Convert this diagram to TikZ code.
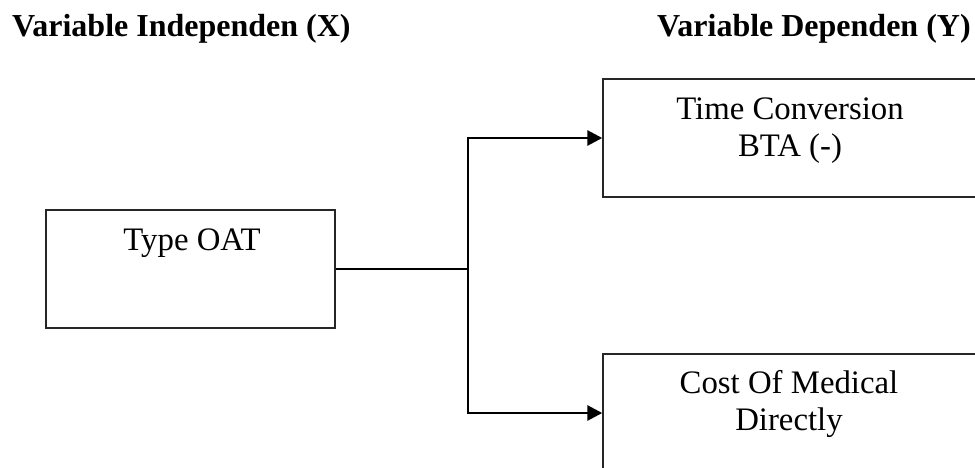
\documentclass[tikz,border=0pt]{standalone}
\usepackage{fontspec}
\setmainfont{Liberation Serif}
\usetikzlibrary{arrows.meta}
\begin{document}
\begin{tikzpicture}[x=1pt,y=-1pt,
  box/.style={draw=black!85,line width=1.4pt,minimum width=#1,minimum height=118pt,inner sep=0pt},
  lbl/.style={anchor=base,align=center,inner sep=0pt,font=\fontsize{32.8}{37}\selectfont},
  title/.style={anchor=base west,inner sep=0pt,font=\fontsize{32}{38}\selectfont\bfseries},
  conn/.style={line width=2.8pt,black},
  arr/.style={conn,-{Triangle[length=15pt,width=15pt]}}]
\useasboundingbox (0,0) rectangle (975,468);
\clip (0,0) rectangle (975,468);
\node[title] (tx) at (12,37) {Variable Independen (X)};
\node[title] (ty) at (657,37) {Variable Dependen (Y)};
\node[box=289pt] (oat) at (190.5,269) {};
\node[box=374pt] (bta) at (790,138) {};
\node[box=374pt] (cost) at (790,413) {};
\node[lbl] (toat) at (192,250) {Type OAT};
\node[lbl] (tbta) at (790,157) {Time Conversion\\BTA (-)};
\node[lbl] (tcost) at (789,430) {Cost Of Medical\\Directly};
\coordinate (j) at (468,269);
\draw[conn] (oat.east) -- (j);
\draw[arr] (j) |- (bta.west);
\draw[arr] (j) |- (cost.west);
\end{tikzpicture}
\end{document}
